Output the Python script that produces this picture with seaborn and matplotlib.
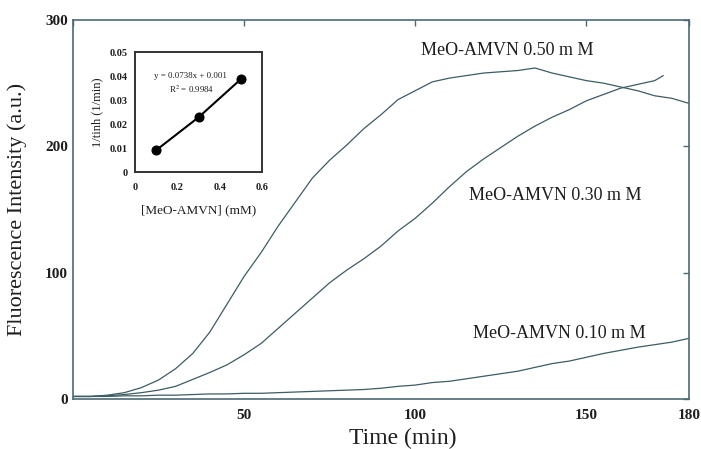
import numpy as np
import pandas as pd
import matplotlib
matplotlib.use('Agg')
import matplotlib.pyplot as plt
import seaborn as sns

# main curves, every 5 min
time_050 = list(range(0, 185, 5))
fl_050 = [2, 2, 3, 5, 9, 15, 24, 36, 53, 75, 97, 116, 137, 156, 175, 189, 201, 214,
          225, 237, 244, 251, 254, 256, 258, 259, 260, 262, 258, 255, 252, 250, 247,
          244, 240, 238, 234]

time_030 = list(range(0, 175, 5)) + [172.5]
fl_030 = [2, 2, 2.5, 3.5, 5, 7, 10, 15.5, 21, 27, 35, 44, 56, 68, 80, 92, 102, 111,
          121, 133, 143, 155, 168, 180, 190, 199, 208, 216, 223, 229, 236, 241, 246,
          249, 252, 256]

time_010 = list(range(0, 185, 5))
fl_010 = [2, 2, 2, 2.5, 2.5, 3, 3, 3.5, 4, 4, 4.5, 4.5, 5, 5.5, 6, 6.5, 7, 7.5, 8.5,
          10, 11, 13, 14, 16, 18, 20, 22, 25, 28, 30, 33, 36, 38.5, 41, 43, 45, 48]

curve_labels = ['MeO-AMVN 0.50 m M', 'MeO-AMVN 0.30 m M', 'MeO-AMVN 0.10 m M']

# inset
conc = [0.1, 0.3, 0.5]
inv_tinh = [0.0092, 0.0229, 0.0388]
fit_text = 'y = 0.0738x + 0.001'
r2_text = 'R$^2$ = 0.9984'

sns.set_style('white')
plt.rcParams['font.family'] = ['Liberation Serif', 'DejaVu Serif']
plt.rcParams['mathtext.fontset'] = 'stix'

line_col = '#3d5c64'
spine_col = '#4d6a74'
text_col = '#1e1e1e'

fig = plt.figure(figsize=(7.01, 4.49), dpi=100)
ax = fig.add_axes([0.1041, 0.1114, 0.8787, 0.8441])

for t, f in [(time_050, fl_050), (time_030, fl_030), (time_010, fl_010)]:
    sns.lineplot(x=t, y=f, ax=ax, color=line_col, linewidth=0.9)

ax.set_xlim(0, 180)
ax.set_ylim(0, 300)
ax.set_xticks([0, 50, 100, 150, 180])
ax.set_xticklabels(['', '50', '100', '150', '180'])
ax.set_yticks([0, 100, 200, 300])
ax.tick_params(direction='in', length=4, width=1, colors=spine_col,
               labelcolor=text_col, labelsize=11, top=True, right=True)
ax.tick_params(axis='x', pad=7)
for lab in ax.get_xticklabels() + ax.get_yticklabels():
    lab.set_fontweight('bold')
for s in ax.spines.values():
    s.set_color(spine_col)
    s.set_linewidth(1.2)

ax.set_xlabel('Time (min)', fontsize=17, color=text_col)
ax.set_ylabel('Fluorescence Intensity (a.u.)', fontsize=16, color=text_col)
ax.xaxis.set_label_coords(0.536, -0.075)
ax.yaxis.set_label_coords(-0.075, 0.5)

ax.text(127, 276, curve_labels[0], fontsize=13, ha='center', va='center', color=text_col)
ax.text(141, 161, curve_labels[1], fontsize=13, ha='center', va='center', color=text_col)
ax.text(142, 52, curve_labels[2], fontsize=13, ha='center', va='center', color=text_col)

# inset
ins = fig.add_axes([0.1926, 0.6163, 0.1812, 0.2673])
sns.lineplot(x=conc, y=inv_tinh, ax=ins, color='black', linewidth=1.5,
             marker='o', markersize=6.5, markeredgecolor='black')
ins.set_xlim(0, 0.6)
ins.set_ylim(0, 0.05)
ins.set_xticks([0, 0.2, 0.4, 0.6])
ins.set_xticklabels(['0', '0.2', '0.4', '0.6'])
ins.set_yticks([0, 0.01, 0.02, 0.03, 0.04, 0.05])
ins.set_yticklabels(['0', '0.01', '0.02', '0.03', '0.04', '0.05'])
ins.tick_params(direction='in', length=3, width=1, colors='#333333',
                labelcolor=text_col, labelsize=7.5)
ins.tick_params(axis='x', pad=8)
ins.tick_params(axis='y', pad=5)
for lab in ins.get_xticklabels() + ins.get_yticklabels():
    lab.set_fontweight('bold')
for s in ins.spines.values():
    s.set_color('#333333')
    s.set_linewidth(1.4)
ins.set_xlabel('[MeO-AMVN] (mM)', fontsize=9.5, color=text_col)
ins.set_ylabel('1/tinh (1/min)', fontsize=9, color=text_col)
ins.xaxis.set_label_coords(0.5, -0.27)
ins.yaxis.set_label_coords(-0.25, 0.5)
ins.text(0.263, 0.0401, fit_text, fontsize=6.4, ha='center', va='center', color=text_col)
ins.text(0.266, 0.0347, r2_text, fontsize=6.4, ha='center', va='center', color=text_col)

fig.savefig('out.png', dpi=100)
